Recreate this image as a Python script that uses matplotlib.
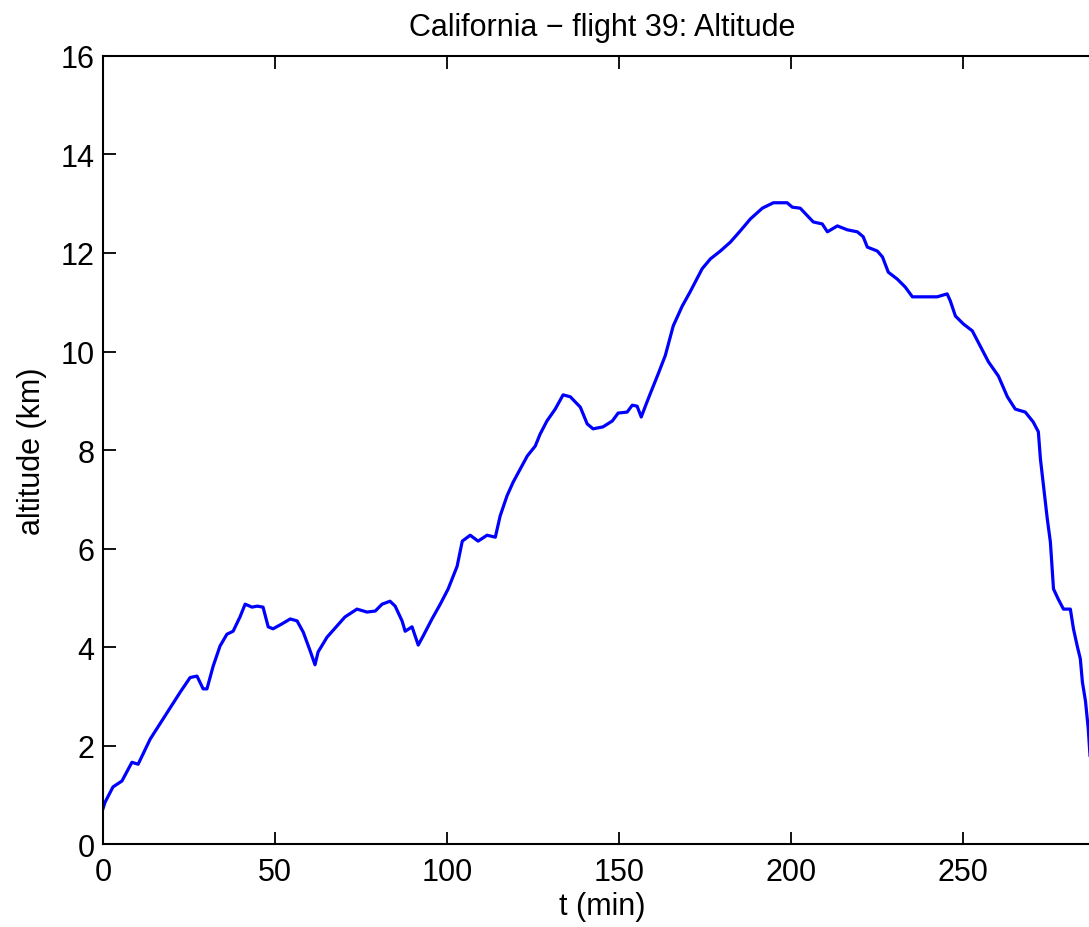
import numpy as np
import matplotlib.pyplot as plt

plt.rcParams['font.family'] = ['Liberation Sans', 'DejaVu Sans']

# flight track (minutes, km)
t_min = [0, 0.6, 2.9, 5.5, 8.4, 10.2, 13.7, 18.0, 22.4, 25.3, 27.3, 29.1, 30.2,
         32.0, 34.0, 36.0, 37.8, 39.8, 41.3, 43.3, 44.8, 46.5, 48.0, 49.4, 52.0,
         54.4, 56.4, 58.2, 60.2, 61.6, 62.5, 65.1, 68.0, 70.3, 73.8, 76.7, 79.1,
         81.1, 83.4, 84.9, 86.9, 87.8, 89.8, 91.6, 93.0, 95.6, 98.0, 100.3, 102.9,
         104.4, 106.7, 109.0, 111.6, 114.0, 115.4, 117.4, 119.2, 121.2, 123.3,
         125.6, 127.0, 129.0, 131.4, 133.7, 135.8, 138.7, 140.7, 142.4, 145.3,
         148.0, 149.7, 152.3, 153.8, 155.2, 156.4, 157.6, 159.0, 161.3, 163.4,
         165.7, 168.3, 170.6, 174.1, 176.5, 179.4, 182.3, 185.2, 188.1, 191.6,
         194.8, 198.8, 200.3, 202.6, 206.4, 209.0, 210.5, 213.4, 216.3, 219.2,
         220.9, 222.1, 225.0, 226.5, 228.2, 230.8, 233.1, 235.2, 238.4, 242.4,
         245.3, 246.2, 247.7, 250.0, 252.6, 254.9, 257.3, 260.2, 262.8, 265.1,
         268.0, 270.3, 271.8, 272.4, 273.3, 274.4, 275.3, 276.2, 277.6, 279.1,
         281.1, 282.0, 283.1, 284.0, 284.6, 285.5, 286.3, 287.0, 288.0]
alt_km = [0.72, 0.85, 1.16, 1.28, 1.66, 1.62, 2.13, 2.60, 3.08, 3.38, 3.41, 3.15, 3.15,
          3.61, 4.02, 4.26, 4.32, 4.61, 4.87, 4.81, 4.83, 4.81, 4.41, 4.37, 4.47,
          4.57, 4.53, 4.30, 3.92, 3.64, 3.90, 4.20, 4.43, 4.61, 4.77, 4.71, 4.73,
          4.87, 4.93, 4.83, 4.53, 4.32, 4.41, 4.04, 4.22, 4.57, 4.87, 5.18, 5.64,
          6.15, 6.27, 6.15, 6.27, 6.23, 6.66, 7.07, 7.35, 7.61, 7.88,
          8.08, 8.32, 8.59, 8.83, 9.12, 9.08, 8.87, 8.53, 8.43, 8.47,
          8.59, 8.75, 8.77, 8.91, 8.89, 8.67, 8.89, 9.14, 9.54, 9.92,
          10.52, 10.92, 11.21, 11.68, 11.88, 12.04, 12.22, 12.45, 12.69, 12.91,
          13.02, 13.02, 12.93, 12.91, 12.63, 12.59, 12.43, 12.55, 12.47, 12.43,
          12.33, 12.12, 12.04, 11.92, 11.61, 11.47, 11.31, 11.11, 11.11, 11.11,
          11.17, 11.03, 10.72, 10.56, 10.42, 10.11, 9.79, 9.50, 9.08, 8.83,
          8.77, 8.57, 8.37, 7.82, 7.27, 6.60, 6.13, 5.18, 4.97, 4.77,
          4.77, 4.37, 4.02, 3.76, 3.29, 2.90, 2.34, 1.60, 1.00]

fig = plt.figure(figsize=(10.89, 9.28), dpi=100)
ax = fig.add_axes([0.0946, 0.0894, 0.9164, 0.8492])
ax.plot(t_min, alt_km, color='#0000ff', lw=2.3)

ax.set_xlim(0, 290)
ax.set_ylim(0, 16)
ax.set_xticks([0, 50, 100, 150, 200, 250])
ax.set_yticks(np.arange(0, 17, 2))
ax.tick_params(direction='in', length=9, width=1.3, top=True, right=True,
               labelsize=22, pad=6)
ax.tick_params(axis='x', pad=9)
for s in ax.spines.values():
    s.set_linewidth(1.5)

ax.set_xlabel('t (min)', fontsize=22, labelpad=3)
ax.set_ylabel('altitude (km)', fontsize=22, labelpad=10)
ax.set_title('California \u2212 flight 39: Altitude', fontsize=22, pad=15)

fig.savefig('out.png', dpi=100)
